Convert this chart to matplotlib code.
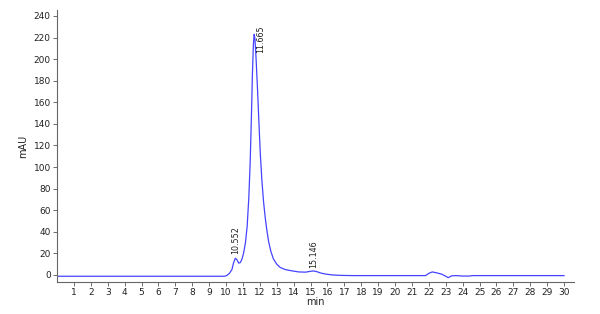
import matplotlib
matplotlib.use("Agg")
import matplotlib.pyplot as plt

# chromatogram trace (min, mAU)
time_min = [0.0, 9.9, 10.05, 10.2, 10.35, 10.45, 10.55, 10.65, 10.75, 10.85,
            10.95, 11.05, 11.15, 11.25, 11.35, 11.43, 11.5, 11.56, 11.62, 11.665,
            11.71, 11.78, 11.87, 11.95, 12.03, 12.12, 12.22, 12.32, 12.42, 12.52,
            12.65, 12.8, 13.0, 13.2, 13.5, 13.9, 14.3, 14.7, 15.0, 15.15,
            15.35, 15.6, 15.9, 16.3, 16.8, 17.5, 21.8, 22.0, 22.2, 22.45,
            22.75, 23.0, 23.15, 23.35, 23.6, 24.0, 24.4, 24.6, 30.0]
signal_mau = [-1.2, -1.2, -0.5, 1.5, 5.0, 11.5, 15.5, 14.0, 11.0, 11.5,
              15.0, 21.0, 30.0, 45.0, 72.0, 105.0, 145.0, 185.0, 214.0, 223.0,
              219.0, 200.0, 170.0, 140.0, 112.0, 88.0, 68.0, 53.0, 41.0, 31.0,
              22.0, 15.0, 10.0, 7.0, 5.0, 3.8, 2.8, 2.6, 3.4, 3.7,
              3.2, 1.8, 0.8, 0.0, -0.4, -0.6, -0.6, 1.5, 2.8, 2.0,
              0.8, -1.2, -2.5, -0.8, -0.6, -1.0, -1.0, -0.6, -0.6]

peak_times = [10.552, 11.665, 15.146]
label_x = [10.56, 12.04, 15.2]
label_y = [19.5, 231.5, 6.8]
label_va = ["bottom", "top", "bottom"]

x_ticks = list(range(1, 31))
y_ticks = list(range(0, 241, 20))

plt.rcParams["font.family"] = "DejaVu Sans"
fig = plt.figure(figsize=(6.0, 3.14), dpi=100)
ax = fig.add_axes([0.095, 0.102, 0.862, 0.866])

ax.plot(time_min, signal_mau, color="#4444ff", lw=0.9)

for pt, lx, ly, va in zip(peak_times, label_x, label_y, label_va):
    ax.text(lx, ly, f"{pt:.3f}", rotation=90, ha="center", va=va,
            fontsize=5.8, color="#222222")

ax.set_xlim(0, 30.6)
ax.set_ylim(-6.5, 245.5)
ax.set_xticks(x_ticks)
ax.set_yticks(y_ticks)
ax.tick_params(labelsize=6.5, length=3, width=0.6, color="#555555",
               labelcolor="#222222", pad=1.5)
for side in ["top", "right"]:
    ax.spines[side].set_visible(False)
for side in ["left", "bottom"]:
    ax.spines[side].set_color("#666666")
    ax.spines[side].set_linewidth(0.8)

ax.set_xlabel("min", fontsize=7, color="#222222", labelpad=0)
ax.set_ylabel("mAU", fontsize=7, color="#222222", labelpad=4)

fig.savefig("out.png", dpi=100)
